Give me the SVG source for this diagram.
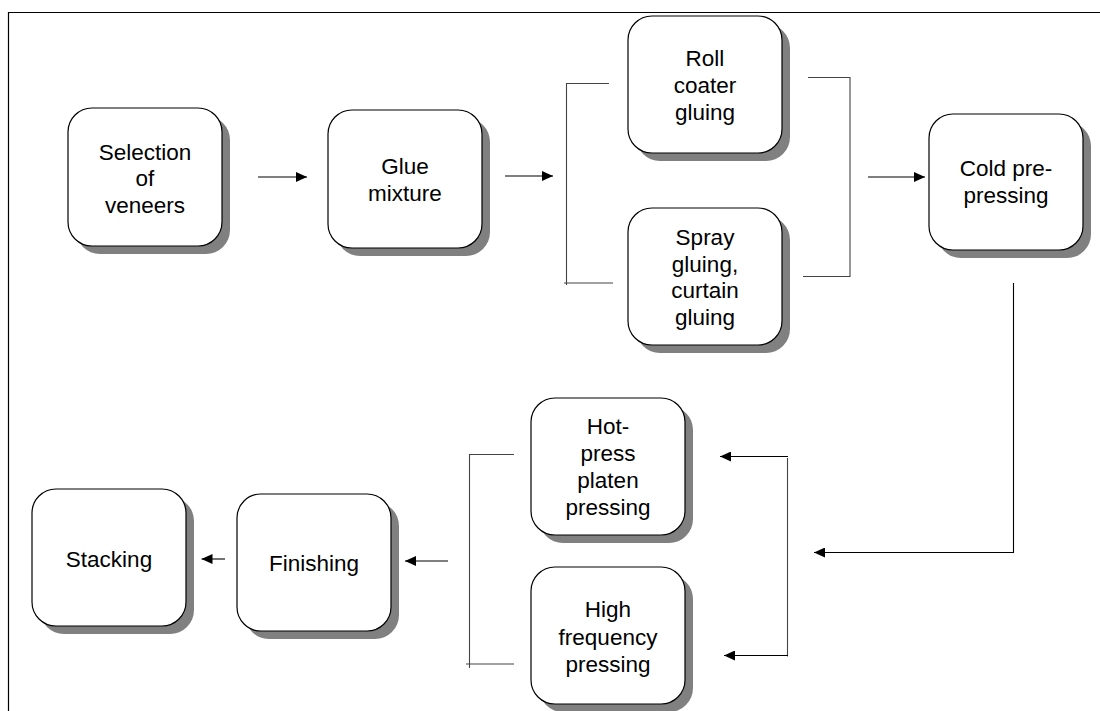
<svg xmlns="http://www.w3.org/2000/svg" width="1100" height="711" viewBox="0 0 1100 711">
<style>
.shadow{fill:#808080;stroke:none}
.box{fill:#ffffff;stroke:#000000;stroke-width:1.2}
.lbl{font-family:"Liberation Sans",Arial,sans-serif;font-size:22.5px;fill:#000000;text-anchor:middle}
.frame{stroke:#000000;stroke-width:1.2;fill:none}
.conn{stroke:#000000;stroke-width:1.1;fill:none}
.brk{stroke:#444444;stroke-width:1.1;fill:none}
</style>
<defs>
<marker id="arr" markerUnits="userSpaceOnUse" markerWidth="11" markerHeight="10" refX="11" refY="5" orient="auto">
<path d="M0,0 L11,5 L0,10 z" fill="#000000"/>
</marker>
</defs>
<rect width="1100" height="711" fill="#ffffff"/>
<path class="frame" d="M8.5,711 V12.5 H1100"/>

<g id="n-selection">
<rect class="shadow" x="76" y="116" width="154" height="138" rx="24"/>
<rect class="box" x="68" y="108" width="154" height="138" rx="24"/>
<text class="lbl" x="145" y="159.5">Selection</text>
<text class="lbl" x="145" y="186">of</text>
<text class="lbl" x="145" y="212.5">veneers</text>
</g>

<g id="n-glue">
<rect class="shadow" x="336" y="118" width="154" height="138" rx="24"/>
<rect class="box" x="328" y="110" width="154" height="138" rx="24"/>
<text class="lbl" x="405" y="174">Glue</text>
<text class="lbl" x="405" y="200.5">mixture</text>
</g>

<g id="n-roll">
<rect class="shadow" x="636" y="24" width="154" height="137" rx="24"/>
<rect class="box" x="628" y="16" width="154" height="137" rx="24"/>
<text class="lbl" x="705" y="66">Roll</text>
<text class="lbl" x="705" y="93">coater</text>
<text class="lbl" x="705" y="120">gluing</text>
</g>

<g id="n-spray">
<rect class="shadow" x="636" y="216" width="154" height="137" rx="24"/>
<rect class="box" x="628" y="208" width="154" height="137" rx="24"/>
<text class="lbl" x="705" y="245">Spray</text>
<text class="lbl" x="705" y="271.7">gluing,</text>
<text class="lbl" x="705" y="298.4">curtain</text>
<text class="lbl" x="705" y="325">gluing</text>
</g>

<g id="n-cold">
<rect class="shadow" x="937" y="122" width="154" height="136" rx="24"/>
<rect class="box" x="929" y="114" width="154" height="136" rx="24"/>
<text class="lbl" x="1006" y="176">Cold pre-</text>
<text class="lbl" x="1006" y="202.5">pressing</text>
</g>

<g id="n-hot">
<rect class="shadow" x="539" y="406" width="154" height="137" rx="24"/>
<rect class="box" x="531" y="398" width="154" height="137" rx="24"/>
<text class="lbl" x="608" y="434">Hot-</text>
<text class="lbl" x="608" y="461">press</text>
<text class="lbl" x="608" y="488">platen</text>
<text class="lbl" x="608" y="515">pressing</text>
</g>

<g id="n-high">
<rect class="shadow" x="539" y="575" width="154" height="137" rx="24"/>
<rect class="box" x="531" y="567" width="154" height="137" rx="24"/>
<text class="lbl" x="608" y="617">High</text>
<text class="lbl" x="608" y="644.5">frequency</text>
<text class="lbl" x="608" y="671.5">pressing</text>
</g>

<g id="n-finishing">
<rect class="shadow" x="245" y="502" width="154" height="137" rx="24"/>
<rect class="box" x="237" y="494" width="154" height="137" rx="24"/>
<text class="lbl" x="314" y="571">Finishing</text>
</g>

<g id="n-stacking">
<rect class="shadow" x="40" y="497" width="154" height="137" rx="24"/>
<rect class="box" x="32" y="489" width="154" height="137" rx="24"/>
<text class="lbl" x="109" y="567">Stacking</text>
</g>

<g id="connectors">
<line class="conn" x1="258" y1="177" x2="307" y2="177" marker-end="url(#arr)"/>
<line class="conn" x1="505" y1="176" x2="553" y2="176" marker-end="url(#arr)"/>
<path class="brk" d="M609,83.5 H566.5 V285"/>
<path class="brk" d="M564,283 H613"/>
<path class="brk" d="M808,77.5 H850 V276.5 H803"/>
<line class="conn" x1="868" y1="177" x2="925" y2="177" marker-end="url(#arr)"/>
<path class="conn" d="M1013.5,283 V552.5 H814" marker-end="url(#arr)"/>
<path class="brk" d="M787.5,458 V656.5"/>
<line class="conn" x1="788" y1="456.5" x2="720" y2="456.5" marker-end="url(#arr)"/>
<line class="conn" x1="788" y1="655.5" x2="724" y2="655.5" marker-end="url(#arr)"/>
<path class="brk" d="M514,454.5 H469.5 V668"/>
<path class="brk" d="M466,664 H514"/>
<line class="conn" x1="448" y1="561" x2="405" y2="561" marker-end="url(#arr)"/>
<line class="conn" x1="225" y1="559" x2="201.5" y2="559" marker-end="url(#arr)"/>
</g>
</svg>
